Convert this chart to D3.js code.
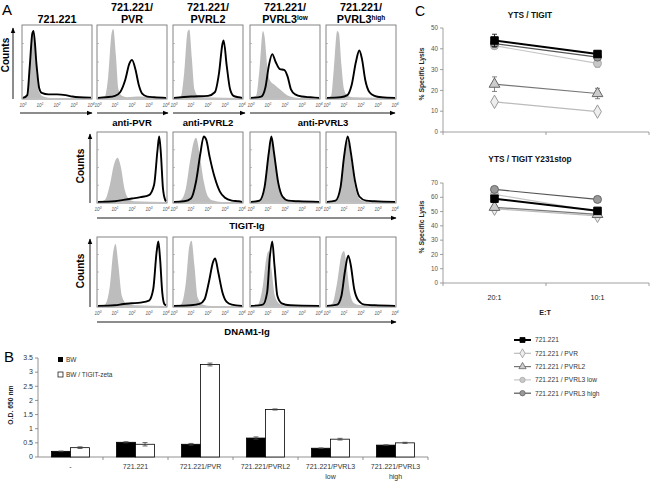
<!DOCTYPE html>
<html><head><meta charset="utf-8">
<script src="https://cdn.jsdelivr.net/npm/d3@7"></script>
<style>body{margin:0;background:#fff} svg{display:block} text{font-family:"Liberation Sans",Arial,sans-serif}</style>
</head><body><svg id="c" width="650" height="481"></svg>
<script>
// ---------------- DATA ----------------
// Panel A: flow cytometry histograms, points are [log decade, % of max height]
const flowColumns = ["721.221", "721.221/|PVR", "721.221/|PVRL2", "721.221/|PVRL3^low", "721.221/|PVRL3^high"];
const flowRowLabels = ["anti-", "TIGIT-Ig", "DNAM1-Ig"];
const antiLabels = ["anti-PVR", "anti-PVRL2", "anti-PVRL3"];
const decadeTicks = [0, 1, 2, 3, 4];

const antiGrey = [
  [[0,0],[0.25,3],[0.4,35],[0.55,85],[0.65,88],[0.8,35],[0.95,8],[1.2,2],[1.6,0],[4,0]],
  [[0,0],[0.4,2],[0.6,30],[0.8,90],[0.9,96],[1.05,60],[1.2,12],[1.4,3],[1.7,1],[2.5,2],[3,1],[4,0]],
  [[0,0],[0.4,2],[0.6,35],[0.8,92],[0.9,95],[1.05,55],[1.2,12],[1.4,3],[1.8,1],[4,0]],
  [[0,0],[0.3,3],[0.5,40],[0.7,93],[0.8,85],[0.95,45],[1.1,25],[1.4,18],[1.7,12],[2.0,6],[2.3,2],[2.8,0],[4,0]],
  [[0,0],[0.25,3],[0.4,40],[0.6,93],[0.7,90],[0.85,45],[1.0,12],[1.2,3],[1.5,1],[4,0]]
];
const antiBlack = [
  [[0,0],[0.25,4],[0.4,45],[0.55,90],[0.62,93],[0.8,45],[0.95,14],[1.1,7],[1.5,5],[2.0,5],[2.5,4],[2.9,2],[3.3,1],[4,0.5]],
  [[0,0],[0.5,1],[1,3],[1.3,8],[1.6,25],[1.85,48],[2.0,53],[2.2,40],[2.4,18],[2.6,6],[2.9,2],[3.3,1],[4,0]],
  [[0,0],[1,2],[2,3],[2.4,8],[2.65,35],[2.85,75],[2.92,80],[3.1,45],[3.3,12],[3.5,3],[3.8,1],[4,0]],
  [[0,0],[0.6,2],[0.85,15],[1.05,45],[1.25,61],[1.45,50],[1.7,40],[1.95,39],[2.15,30],[2.35,12],[2.6,5],[3,2],[3.5,1],[4,0]],
  [[0,0],[0.8,1],[1.2,4],[1.45,18],[1.7,50],[1.9,66],[2.05,55],[2.25,25],[2.5,8],[2.8,3],[3.2,1],[4,0]]
];
const tigitGrey = [
  null,
  [[0,0],[0.4,3],[0.7,25],[0.95,55],[1.15,64],[1.35,50],[1.55,20],[1.8,5],[2.1,1],[4,0]],
  [[0,0],[0.4,3],[0.7,20],[0.95,60],[1.2,90],[1.3,93],[1.5,70],[1.75,30],[2.0,8],[2.3,2],[2.8,0],[4,0]],
  [[0,0],[0.5,2],[0.8,25],[1.05,75],[1.2,92],[1.35,70],[1.6,25],[1.85,6],[2.2,1],[4,0]],
  [[0,0],[0.5,2],[0.8,25],[1.0,70],[1.2,90],[1.4,65],[1.65,22],[1.9,5],[2.2,1],[4,0]]
];
const tigitBlack = [
  null,
  [[0,0],[1.0,1],[1.5,3],[2.0,5],[2.5,7],[3.0,10],[3.3,25],[3.5,75],[3.6,95],[3.7,70],[3.82,20],[3.95,3],[4,1]],
  [[0,0],[0.6,1],[1.0,5],[1.3,30],[1.55,70],[1.75,95],[1.9,90],[2.1,65],[2.4,35],[2.7,15],[3.0,6],[3.4,2],[3.8,1],[4,0]],
  [[0,0],[0.5,2],[0.8,22],[1.05,72],[1.2,95],[1.35,72],[1.6,28],[1.85,8],[2.2,2],[2.8,1],[4,0]],
  [[0,0],[0.5,2],[0.8,22],[1.0,65],[1.22,95],[1.4,72],[1.65,30],[1.9,8],[2.3,2],[2.8,1],[4,0]]
];
const dnamGrey = [
  null,
  [[0,0],[0.4,2],[0.7,30],[0.9,80],[1.03,91],[1.2,60],[1.4,15],[1.7,3],[2.2,1],[4,0]],
  [[0,0],[0.4,2],[0.7,35],[0.9,88],[1.03,96],[1.2,60],[1.4,12],[1.7,2],[2.2,0],[4,0]],
  [[0,0],[0.4,2],[0.7,30],[0.9,70],[1.03,81],[1.2,55],[1.4,15],[1.7,3],[2.2,0],[4,0]],
  [[0,0],[0.3,3],[0.6,35],[0.85,75],[1.0,81],[1.15,60],[1.35,20],[1.6,4],[2.0,1],[4,0]]
];
const dnamBlack = [
  null,
  [[0,0],[1,1],[1.5,3],[2.0,4],[2.5,5],[3.0,8],[3.25,25],[3.45,80],[3.55,95],[3.65,70],[3.78,20],[3.9,3],[4,1]],
  [[0,0],[1,1],[1.5,3],[1.8,10],[2.05,35],[2.3,65],[2.42,70],[2.6,50],[2.85,20],[3.1,6],[3.4,2],[4,0]],
  [[0,0],[0.7,2],[0.95,20],[1.1,70],[1.25,95],[1.38,60],[1.55,15],[1.8,4],[2.3,1],[4,0]],
  [[0,0],[0.6,2],[0.85,15],[1.05,50],[1.25,74],[1.4,60],[1.6,25],[1.85,8],[2.2,2],[2.8,1],[4,0]]
];

// Panel B: bar chart
const barCategories = ["-", "721.221", "721.221/PVR", "721.221/PVRL2", "721.221/PVRL3|low", "721.221/PVRL3|high"];
const barSeries = ["BW", "BW / TIGIT-zeta"];
const bwValues = [0.2, 0.52, 0.45, 0.67, 0.31, 0.42];
const bwErrors = [0.01, 0.02, 0.03, 0.04, 0.01, 0.01];
const tigitZetaValues = [0.33, 0.45, 3.27, 1.68, 0.63, 0.5];
const tigitZetaErrors = [0.03, 0.06, 0.05, 0.02, 0.03, 0.02];
const barTicks = [0, 0.5, 1, 1.5, 2, 2.5, 3, 3.5];

// Panel C: lysis line charts
const etRatios = ["20:1", "10:1"];
const lysisSeries = ["721.221", "721.221 / PVR", "721.221 / PVRL2", "721.221 / PVRL3 low", "721.221 / PVRL3 high"];
const tigitLysis = [[44, 37.5], [14.5, 9.8], [23, 18.5], [41.5, 33], [42.5, 36]];
const tigitLysisErr = [[3, 1.5], [1, 1], [3.5, 2.5], [1.5, 2], [1.5, 1.5]];
const y231Lysis = [[59, 50.5], [52, 47], [53, 48], [62, 50], [65.5, 58.5]];
const y231LysisErr = [[2, 1.5], [1.5, 1], [2, 1.5], [1.5, 1.5], [1.5, 2]];
const tigitTicks = [0, 10, 20, 30, 40, 50];
const y231Ticks = [0, 10, 20, 30, 40, 50, 60, 70];

// ---------------- DRAW ----------------
const svg = d3.select("#c");
svg.append("defs").append("marker").attr("id", "arr").attr("viewBox", "0 0 10 10")
  .attr("refX", 9).attr("refY", 5).attr("markerWidth", 6).attr("markerHeight", 6)
  .attr("markerUnits", "userSpaceOnUse").attr("orient", "auto")
  .append("path").attr("d", "M0,1 L10,5 L0,9 Z").attr("fill", "#000");

// panel letters
svg.append("text").attr("x", 2).attr("y", 15).attr("font-size", 15).text("A");
svg.append("text").attr("x", 4).attr("y", 362).attr("font-size", 15).text("B");
svg.append("text").attr("x", 415).attr("y", 16).attr("font-size", 14).text("C");

// ---- Panel A ----
const colX = [22, 97, 173, 250, 326];
const boxW = 70;
const rowTop = [25, 132, 237];
const rowH = [74, 71, 70];
const rowsGrey = [antiGrey, tigitGrey, dnamGrey];
const rowsBlack = [antiBlack, tigitBlack, dnamBlack];

flowColumns.forEach((t, i) => {
  const cx = colX[i] + boxW / 2;
  const lines = t.split("|");
  const tt = svg.append("text").attr("text-anchor", "middle").attr("font-weight", "bold").attr("font-size", 10.8);
  if (lines.length === 1) {
    tt.attr("x", cx).attr("y", 23).text(lines[0]);
  } else {
    tt.attr("x", cx).attr("y", 11).text(lines[0]);
    const t2 = svg.append("text").attr("text-anchor", "middle").attr("font-weight", "bold").attr("font-size", 10.8).attr("x", cx).attr("y", 23);
    const parts = lines[1].split("^");
    t2.append("tspan").text(parts[0]);
    if (parts[1]) t2.append("tspan").attr("font-size", 6.5).attr("dy", -3.5).text(parts[1]);
  }
});

rowsGrey.forEach((rowG, r) => {
  const top = rowTop[r], h = rowH[r], bottom = top + h;
  rowG.forEach((g, c) => {
    if (!g) return;
    const x0 = colX[c];
    const xs = d3.scaleLinear().domain([0, 4]).range([x0 + 1, x0 + boxW - 1]);
    const ys = d3.scaleLinear().domain([0, 100]).range([bottom - 1, top + 1]);
    const gg = svg.append("g");
    const area = d3.area().x(d => xs(d[0])).y0(bottom - 1).y1(d => ys(d[1])).curve(d3.curveMonotoneX);
    gg.append("path").datum(g).attr("d", area).attr("fill", "#bdbdbd");
    const line = d3.line().x(d => xs(d[0])).y(d => ys(d[1])).curve(d3.curveMonotoneX);
    gg.append("path").datum(rowsBlack[r][c]).attr("d", line).attr("fill", "none")
      .attr("stroke", "#000").attr("stroke-width", 1.9).attr("stroke-linejoin", "round");
    gg.append("rect").attr("x", x0).attr("y", top).attr("width", boxW).attr("height", h)
      .attr("fill", "none").attr("stroke", "#777").attr("stroke-width", 0.9);
    [0.25, 0.5, 0.75].forEach(f => gg.append("line").attr("x1", x0).attr("x2", x0 + 2)
      .attr("y1", bottom - f * h).attr("y2", bottom - f * h).attr("stroke", "#999").attr("stroke-width", 0.6));
    decadeTicks.forEach(d => {
      const tx = svg.append("text").attr("x", xs(d)).attr("y", bottom + 8).attr("text-anchor", "middle")
        .attr("font-size", 4.6).attr("font-style", "italic").attr("fill", "#555");
      tx.append("tspan").text("10");
      tx.append("tspan").attr("font-size", 3.2).attr("dy", -1.8).text(d);
    });
  });
});

const arrow = (x1, y1, x2, y2) => svg.append("line").attr("x1", x1).attr("y1", y1).attr("x2", x2).attr("y2", y2)
  .attr("stroke", "#000").attr("stroke-width", 0.9).attr("marker-end", "url(#arr)");
arrow(13, 99, 13, 28);
arrow(20, 113, 92, 113);
arrow(97, 113, 168, 113);
arrow(173, 113, 245, 113);
arrow(250, 113, 395, 113);
const antiCenters = [colX[1] + boxW / 2, colX[2] + boxW / 2, (colX[3] + colX[4] + boxW) / 2];
antiLabels.forEach((t, i) => svg.append("text").attr("x", antiCenters[i]).attr("y", 126).attr("text-anchor", "middle")
  .attr("font-weight", "bold").attr("font-size", 9.5).text(t));
arrow(90, 203, 90, 134);
arrow(90, 307, 90, 239);
arrow(97, 218, 396, 218);
arrow(97, 322, 396, 322);
svg.append("text").attr("x", 247).attr("y", 229).attr("text-anchor", "middle").attr("font-weight", "bold").attr("font-size", 9.5).text(flowRowLabels[1]);
svg.append("text").attr("x", 247).attr("y", 335).attr("text-anchor", "middle").attr("font-weight", "bold").attr("font-size", 9.5).text(flowRowLabels[2]);
[[9, 55], [84, 166], [84, 271]].forEach(([x, y]) => svg.append("text")
  .attr("transform", `translate(${x},${y}) rotate(-90)`).attr("text-anchor", "middle")
  .attr("font-weight", "bold").attr("font-size", 10).text("Counts"));

// ---- Panel B ----
{
  const xb = d3.scaleBand().domain(barCategories).range([38, 428]);
  const yb = d3.scaleLinear().domain([0, 3.5]).range([457, 358]);
  const g = svg.append("g");
  g.append("line").attr("x1", 38).attr("x2", 38).attr("y1", 358).attr("y2", 457).attr("stroke", "#777").attr("stroke-width", 0.8);
  g.append("line").attr("x1", 38).attr("x2", 428).attr("y1", 457).attr("y2", 457).attr("stroke", "#777").attr("stroke-width", 0.8);
  barTicks.forEach(t => {
    g.append("line").attr("x1", 35).attr("x2", 38).attr("y1", yb(t)).attr("y2", yb(t)).attr("stroke", "#777").attr("stroke-width", 0.8);
    g.append("text").attr("x", 33).attr("y", yb(t) + 2.3).attr("text-anchor", "end").attr("font-size", 7).attr("fill", "#333").text(t);
  });
  barCategories.forEach((c, i) => {
    const x0 = xb(c);
    g.append("line").attr("x1", x0 + xb.bandwidth()).attr("x2", x0 + xb.bandwidth()).attr("y1", 457).attr("y2", 460).attr("stroke", "#777").attr("stroke-width", 0.8);
    const cx = x0 + xb.bandwidth() / 2;
    const bw = 19;
    const vals = [[bwValues[i], bwErrors[i], "#000"], [tigitZetaValues[i], tigitZetaErrors[i], "#fff"]];
    vals.forEach(([v, e, fill], k) => {
      const bx = cx - bw + k * bw;
      g.append("rect").attr("x", bx).attr("y", yb(v)).attr("width", bw).attr("height", yb(0) - yb(v))
        .attr("fill", fill).attr("stroke", "#000").attr("stroke-width", 0.8);
      const mx = bx + bw / 2;
      g.append("line").attr("x1", mx).attr("x2", mx).attr("y1", yb(v + e)).attr("y2", yb(v - e)).attr("stroke", "#444").attr("stroke-width", 0.8);
      [v + e, v - e].forEach(ev => g.append("line").attr("x1", mx - 2.5).attr("x2", mx + 2.5).attr("y1", yb(ev)).attr("y2", yb(ev)).attr("stroke", "#444").attr("stroke-width", 0.8));
    });
    const lines = c.split("|");
    lines.forEach((l, j) => g.append("text").attr("x", cx).attr("y", 469 + j * 9.5).attr("text-anchor", "middle")
      .attr("font-size", 7).attr("fill", "#333").text(l));
  });
  g.append("text").attr("transform", "translate(13,405) rotate(-90)").attr("text-anchor", "middle")
    .attr("font-weight", "bold").attr("font-size", 6.8).attr("fill", "#222").text("O.D. 650 nm");
  g.append("rect").attr("x", 58).attr("y", 357).attr("width", 5).attr("height", 5).attr("fill", "#000");
  g.append("text").attr("x", 66).attr("y", 362).attr("font-size", 6.5).attr("fill", "#333").text(barSeries[0]);
  g.append("rect").attr("x", 58).attr("y", 372).attr("width", 5).attr("height", 5).attr("fill", "#fff").attr("stroke", "#000").attr("stroke-width", 0.7);
  g.append("text").attr("x", 66).attr("y", 377).attr("font-size", 6.5).attr("fill", "#333").text(barSeries[1]);
}

// ---- Panel C ----
const seriesStyle = [
  {line: "#000", lw: 2, fill: "#000", stroke: "#000", sym: d3.symbolSquare, size: 56},
  {line: "#bbb", lw: 1.2, fill: "#eee", stroke: "#999", sym: d3.symbolDiamond, size: 52},
  {line: "#777", lw: 1.2, fill: "#ccc", stroke: "#666", sym: d3.symbolTriangle, size: 50},
  {line: "#c6c6c6", lw: 1.2, fill: "#c8c8c8", stroke: "#aaa", sym: d3.symbolCircle, size: 50},
  {line: "#555", lw: 1.2, fill: "#999", stroke: "#666", sym: d3.symbolCircle, size: 50}
];
function lysisChart(data, errs, ticks, ymax, y0, y1, title, titleY, showX) {
  const xs = d3.scalePoint().domain(etRatios).range([443, 649]).padding(0.5);
  const ys = d3.scaleLinear().domain([0, ymax]).range([y0, y1]);
  const g = svg.append("g");
  g.append("line").attr("x1", 443).attr("x2", 443).attr("y1", y1).attr("y2", y0).attr("stroke", "#888").attr("stroke-width", 0.8);
  g.append("line").attr("x1", 443).attr("x2", 649).attr("y1", y0).attr("y2", y0).attr("stroke", "#888").attr("stroke-width", 0.8);
  [443, 546, 649].forEach(x => g.append("line").attr("x1", x).attr("x2", x).attr("y1", y0).attr("y2", y0 + 3).attr("stroke", "#888").attr("stroke-width", 0.8));
  ticks.forEach(t => {
    g.append("line").attr("x1", 440).attr("x2", 443).attr("y1", ys(t)).attr("y2", ys(t)).attr("stroke", "#888").attr("stroke-width", 0.8);
    g.append("text").attr("x", 438).attr("y", ys(t) + 2.2).attr("text-anchor", "end").attr("font-size", 6.3).attr("fill", "#555").text(t);
  });
  g.append("text").attr("x", 530).attr("y", titleY).attr("text-anchor", "middle").attr("font-weight", "bold").attr("font-size", 8.3).attr("fill", "#111").text(title);
  g.append("text").attr("transform", `translate(424,${(y0 + y1) / 2 - 6}) rotate(-90)`).attr("text-anchor", "middle")
    .attr("font-weight", "bold").attr("font-size", 6.8).attr("fill", "#222").text("% Specific Lysis");
  if (showX) etRatios.forEach(e => g.append("text").attr("x", xs(e)).attr("y", y0 + 17).attr("text-anchor", "middle").attr("font-size", 7.2).attr("fill", "#222").text(e));
  [1, 3, 2, 4, 0].forEach(i => {
    const st = seriesStyle[i];
    const pts = data[i].map((v, k) => [xs(etRatios[k]), ys(v), v, errs[i][k]]);
    g.append("path").datum(pts).attr("d", d3.line().x(d => d[0]).y(d => d[1])).attr("stroke", st.line).attr("stroke-width", st.lw).attr("fill", "none");
    pts.forEach(p => {
      g.append("line").attr("x1", p[0]).attr("x2", p[0]).attr("y1", ys(p[2] + p[3])).attr("y2", ys(p[2] - p[3])).attr("stroke", st.stroke).attr("stroke-width", 0.8);
      [p[2] + p[3], p[2] - p[3]].forEach(ev => g.append("line").attr("x1", p[0] - 2.5).attr("x2", p[0] + 2.5).attr("y1", ys(ev)).attr("y2", ys(ev)).attr("stroke", st.stroke).attr("stroke-width", 0.8));
      g.append("path").attr("d", d3.symbol().type(st.sym).size(st.size)()).attr("transform", `translate(${p[0]},${p[1]})`)
        .attr("fill", st.fill).attr("stroke", st.stroke).attr("stroke-width", 1);
    });
  });
}
lysisChart(tigitLysis, tigitLysisErr, tigitTicks, 50, 132, 28, "YTS / TIGIT", 18, false);
lysisChart(y231Lysis, y231LysisErr, y231Ticks, 70, 283, 183, "YTS / TIGIT Y231stop", 162, true);
svg.append("text").attr("x", 545).attr("y", 315).attr("text-anchor", "middle").attr("font-weight", "bold").attr("font-size", 7.2).attr("fill", "#222").text("E:T");

lysisSeries.forEach((s, i) => {
  const st = seriesStyle[i];
  const y = 340 + i * 13.3;
  svg.append("line").attr("x1", 514).attr("x2", 531).attr("y1", y).attr("y2", y).attr("stroke", st.line).attr("stroke-width", st.lw);
  svg.append("path").attr("d", d3.symbol().type(st.sym).size(st.size * 0.45)()).attr("transform", `translate(522.5,${y})`)
    .attr("fill", st.fill).attr("stroke", st.stroke).attr("stroke-width", 0.8);
  svg.append("text").attr("x", 535).attr("y", y + 2.3).attr("font-size", 6.6).attr("fill", "#333").text(s);
});
</script></body></html>
